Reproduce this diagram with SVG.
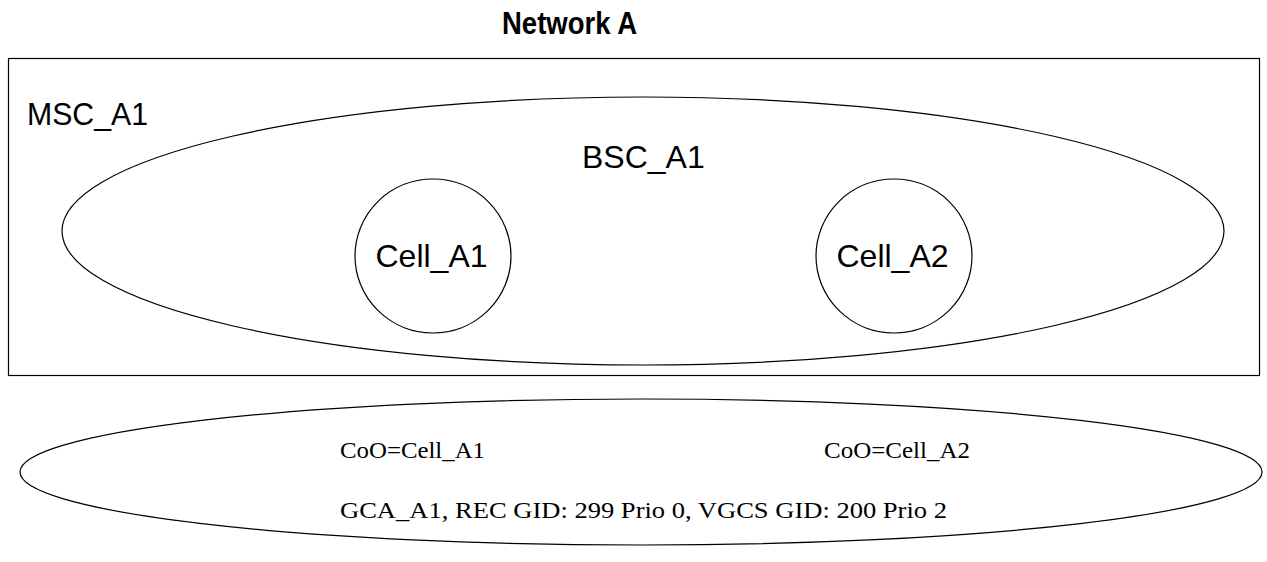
<svg xmlns="http://www.w3.org/2000/svg" width="1267" height="562" viewBox="0 0 1267 562">
<style>
.shape{fill:none;stroke:#000;stroke-width:1.2}
.sans{font-family:"Liberation Sans",Arial,sans-serif;fill:#000;font-size:32px}
.serif{font-family:"Liberation Serif","Times New Roman",serif;fill:#000;font-size:24px}
</style>
<rect width="1267" height="562" fill="#fff"/>
<text class="sans" x="502" y="34" font-size="26" font-weight="bold" textLength="135" lengthAdjust="spacingAndGlyphs">Network A</text>
<g id="msc">
<rect class="shape" x="8.5" y="58.5" width="1251" height="317" stroke="#333" stroke-width="1.5"/>
<text class="sans" x="27" y="125" textLength="121" lengthAdjust="spacingAndGlyphs">MSC_A1</text>
</g>
<g id="bsc">
<ellipse class="shape" cx="643" cy="231" rx="581" ry="134"/>
<text class="sans" x="582" y="168">BSC_A1</text>
</g>
<g id="cell_a1">
<ellipse class="shape" cx="433" cy="256" rx="78" ry="77"/>
<text class="sans" x="431.5" y="267" text-anchor="middle">Cell_A1</text>
</g>
<g id="cell_a2">
<ellipse class="shape" cx="894" cy="256" rx="78" ry="77"/>
<text class="sans" x="892.5" y="267" text-anchor="middle">Cell_A2</text>
</g>
<g id="gca">
<ellipse class="shape" cx="641" cy="472" rx="621" ry="73"/>
<text class="serif" x="340" y="458" textLength="145" lengthAdjust="spacingAndGlyphs">CoO=Cell_A1</text>
<text class="serif" x="824" y="458" textLength="146" lengthAdjust="spacingAndGlyphs">CoO=Cell_A2</text>
<text class="serif" x="340" y="518" textLength="607" lengthAdjust="spacingAndGlyphs">GCA_A1,  REC  GID:  299  Prio  0,  VGCS   GID:  200  Prio  2</text>
</g>
<g id="connectors"></g>
</svg>
